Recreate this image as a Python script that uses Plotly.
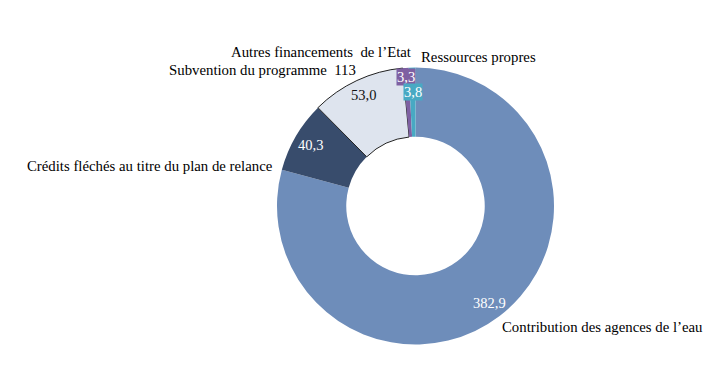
import math
import plotly.graph_objects as go

categories = [
    "Contribution des agences de l’eau",
    "Crédits fléchés au titre du plan de relance",
    "Subvention du programme  113",
    "Autres financements  de l’Etat",
    "Ressources propres",
]
values = [382.9, 40.3, 53.0, 3.3, 3.8]
colors = ["#6E8DBA", "#384C6C", "#DEE4EE", "#7E60A2", "#48A9C3"]
value_font_colors = ["white", "white", "#111111", "white", "white"]
value_bg = [None, None, None, "#7E60A2", "#48A9C3"]
value_radius = [0.88, 0.88, 0.885, 0.935, 0.825]

W, H = 722, 381
CX, CY, R = 415.5, 206.0, 138.5

fig = go.Figure()
fig.add_trace(go.Pie(
    labels=categories,
    values=values,
    sort=False,
    direction="clockwise",
    rotation=0,
    hole=0.5,
    marker=dict(colors=colors,
                line=dict(color=["rgba(0,0,0,0)", "rgba(0,0,0,0)", "#222222", "rgba(0,0,0,0)", "rgba(0,0,0,0)"],
                          width=[0, 0, 1, 0, 0])),
    textinfo="none",
    hoverinfo="label+value",
    showlegend=False,
    domain=dict(x=[(CX - R) / W, (CX + R) / W], y=[1 - (CY + R) / H, 1 - (CY - R) / H]),
))

font_family = "Liberation Serif"
annotations = []
total = sum(values)
cum = 0.0
for v, fc, bg, rf in zip(values, value_font_colors, value_bg, value_radius):
    mid = (cum + v / 2) / total * 2 * math.pi
    cum += v
    px = CX + rf * R * math.sin(mid)
    py = CY - rf * R * math.cos(mid)
    txt = f"{v:.1f}".replace(".", ",")
    a = dict(x=px / W, y=1 - py / H, xref="paper", yref="paper", text=txt,
             showarrow=False, font=dict(family=font_family, size=14.5, color=fc),
             xanchor="center", yanchor="middle")
    if bg:
        a.update(bgcolor=bg, borderpad=0)
    annotations.append(a)

# category labels (outside)
label_pos = [
    (500, 327, "left"),
    (275, 166, "right"),
    (358, 70, "right"),
    (414, 52, "right"),
    (419, 57, "left"),
]
for name, (px, py, anc) in zip(categories, label_pos):
    annotations.append(dict(x=px / W, y=1 - py / H, xref="paper", yref="paper", text=name,
                            showarrow=False, font=dict(family=font_family, size=14.8, color="#000000"),
                            xanchor=anc, yanchor="middle"))

fig.update_layout(
    width=W, height=H,
    margin=dict(l=0, r=0, t=0, b=0),
    paper_bgcolor="white",
    plot_bgcolor="white",
    annotations=annotations,
)
fig.write_html("out.html", config={"displayModeBar": False},
               post_script="document.body.style.margin='0';")
